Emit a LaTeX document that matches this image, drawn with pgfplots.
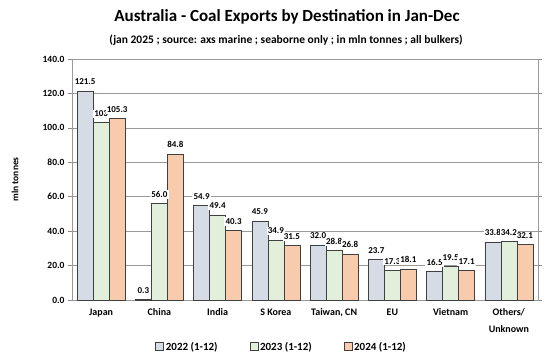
\documentclass[border=0pt]{standalone}
\usepackage{pgfplots}
\pgfplotsset{compat=1.18}
\usepackage{fontspec}
\setmainfont{Carlito}
\definecolor{c22}{HTML}{D6DCE5}
\definecolor{c23}{HTML}{E2EFDA}
\definecolor{c24}{HTML}{F8CBAD}
\definecolor{edge}{HTML}{404040}
\begin{document}
\begin{tikzpicture}
\path[use as bounding box] (-72pt,-62pt) rectangle (482pt,300pt);
\begin{axis}[
  at={(0,0)}, anchor=south west,
  scale only axis, width=466pt, height=241pt,
  ybar=0pt, bar width=0.275,
  xmin=-0.5, xmax=7.5, ymin=0, ymax=140,
  ytick={0,20,...,140},
  yticklabel={\pgfmathprintnumber[fixed,fixed zerofill,precision=1]{\tick}},
  /pgf/number format/assume math mode=true,
  yticklabel style={font=\fontsize{9.5}{11}\selectfont\bfseries},
  xtick=data,
  xticklabels={Japan,China,India,S Korea,{Taiwan, CN},EU,Vietnam,{Others/\\Unknown}},
  xticklabel style={font=\fontsize{10}{17}\selectfont\bfseries, align=center, yshift=-1pt},
  x tick label style={anchor=north},
  major x tick style={draw=none},
  ymajorgrids, grid style={draw=gray!80, line width=0.7pt},
  axis line style={draw=gray!80, line width=0.7pt},
  major y tick style={draw=gray!90, line width=0.7pt},
  tick align=outside, major tick length=4pt,
  ylabel={mln tonnes},
  every axis y label/.style={at={(rel axis cs:-0.122,0.5)}, rotate=90, anchor=center, font=\fontsize{9.5}{11}\selectfont\bfseries},
  point meta=explicit symbolic,
  nodes near coords,
  every node near coord/.append style={font=\fontsize{9}{10}\selectfont\bfseries, fill=white, inner sep=1.2pt, yshift=4.5pt},
  legend style={draw=none, at={(rel axis cs:0.45,-0.195)}, anchor=center, legend columns=3,
    font=\fontsize{11}{13}\selectfont\bfseries,
    /tikz/every even column/.append style={column sep=30pt}},
  legend image code/.code={\draw[#1, draw=edge, line width=0.4pt] (0pt,-3.5pt) rectangle (8pt,4.5pt);},
]
\addplot[fill=c22, draw=edge, line width=0.6pt] coordinates {
 (0,121.5)[121.5] (1,0.3)[0.3] (2,54.9)[54.9] (3,45.9)[45.9] (4,32.0)[32.0] (5,23.7)[23.7] (6,16.5)[16.5] (7,33.8)[33.8]};
\addplot[fill=c23, draw=edge, line width=0.6pt] coordinates {
 (0,103.0)[103] (1,56.0)[56.0] (2,49.4)[49.4] (3,34.9)[34.9] (4,28.8)[28.8] (5,17.3)[17.3] (6,19.5)[19.5] (7,34.2)[34.2]};
\addplot[fill=c24, draw=edge, line width=0.6pt] coordinates {
 (0,105.3)[105.3] (1,84.8)[84.8] (2,40.3)[40.3] (3,31.5)[31.5] (4,26.8)[26.8] (5,18.1)[18.1] (6,17.1)[17.1] (7,32.1)[32.1]};
\legend{2022 (1-12),2023 (1-12),2024 (1-12)}
\end{axis}
\node[font=\fontsize{17}{19}\selectfont\bfseries] at (215pt,283pt) {Australia - Coal Exports by Destination in Jan-Dec};
\node[font=\fontsize{11.5}{13}\selectfont\bfseries] at (214pt,260pt) {(jan 2025 ; source: axs marine ; seaborne only ; in mln tonnes ; all bulkers)};
\end{tikzpicture}
\end{document}
